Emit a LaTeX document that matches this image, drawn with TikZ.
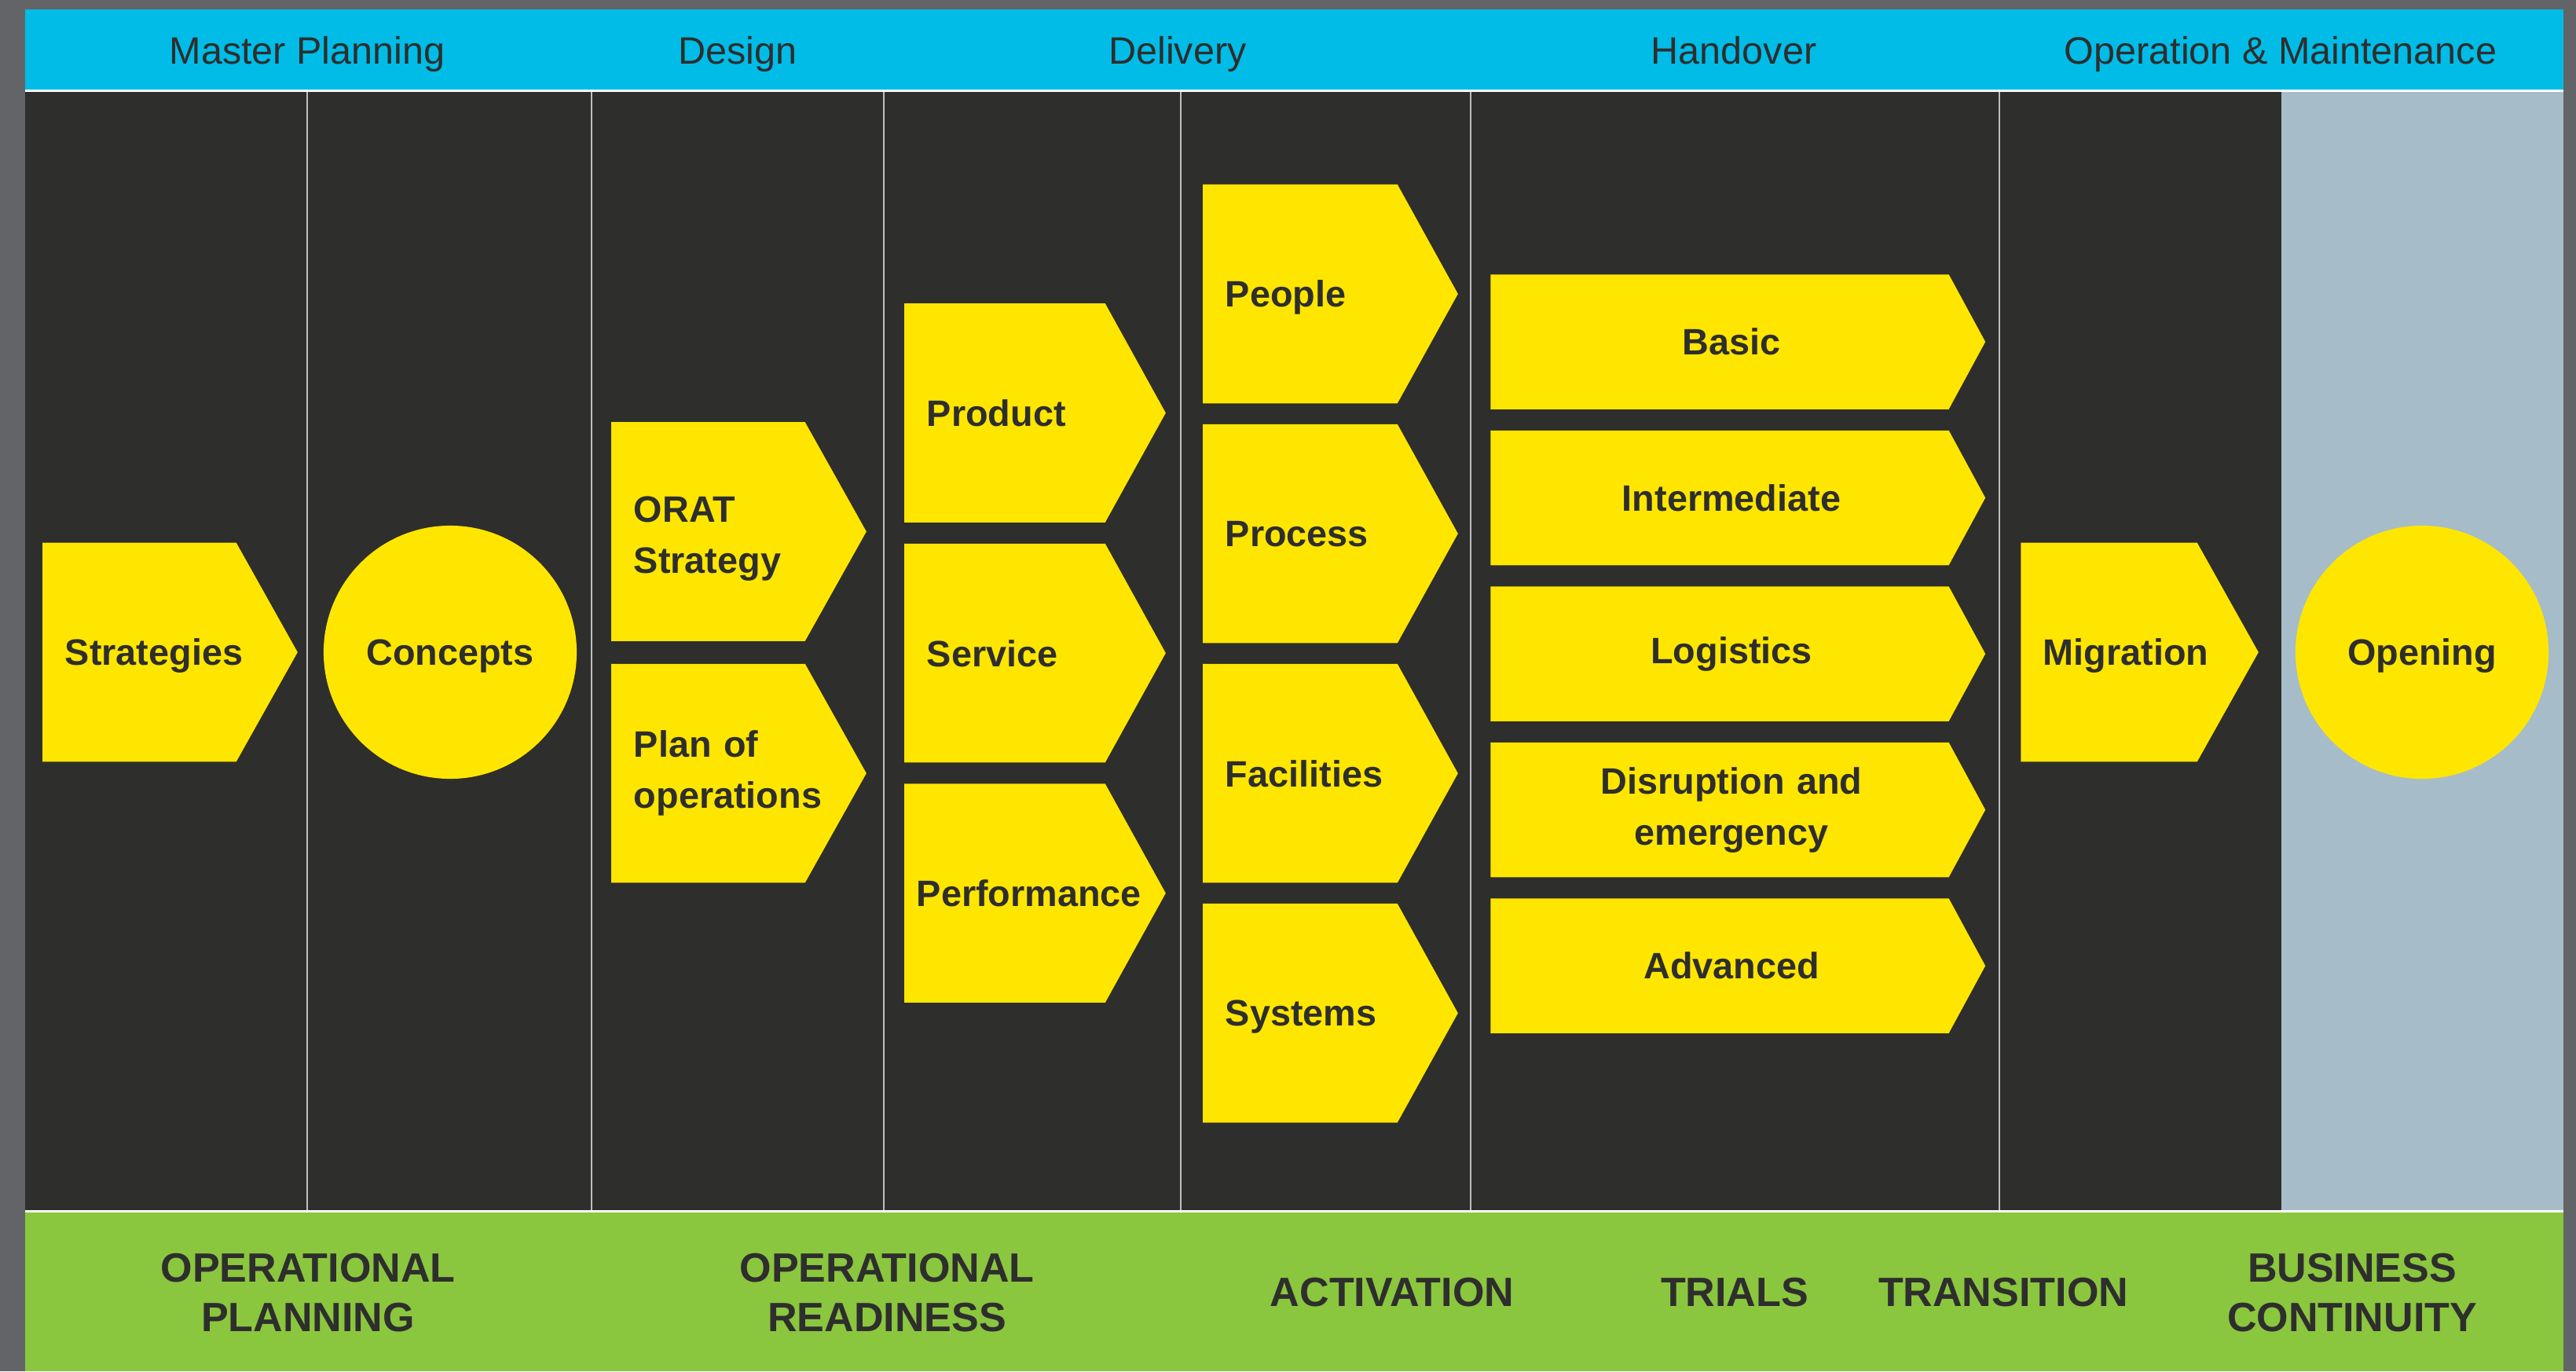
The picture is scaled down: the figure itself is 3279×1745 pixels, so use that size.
\documentclass[tikz,border=0pt]{standalone}
\usepackage{fontspec}
\setmainfont{Liberation Sans}
\usetikzlibrary{positioning,backgrounds}
\definecolor{frame}{HTML}{636467}
\definecolor{sky}{HTML}{00BCE7}
\definecolor{board}{HTML}{2E2E2D}
\definecolor{mist}{HTML}{A7BCC9}
\definecolor{lime}{HTML}{8BC63F}
\definecolor{sun}{HTML}{FFE600}
\definecolor{ink}{HTML}{2E2E2D}
\definecolor{seamgrey}{HTML}{BFBFBF}
\newcommand{\nohyph}{\hyphenpenalty 10000\relax}
\newcommand{\nudge}{\hspace*{0.3cm}}
\newcommand{\pointer}[2]{%
  \fill[sun] (#1.north west) -- (#1.north east) -- ([xshift=#2]#1.east)
    -- (#1.south east) -- (#1.south west) -- cycle;}
\tikzset{
  every node/.style={
    text=ink,
    inner sep=0pt
  },
  phase/.style={anchor=base, font=\fontsize{13.8}{16}\selectfont},
  stage/.style={align=center, font=\bfseries\fontsize{14.8}{18}\selectfont},
  chev/.style={minimum height=2.77cm, inner xsep=0.28cm, text width=#1, align=left,
    text depth=0pt, font=\bfseries\fontsize{13.3}{18.5}\selectfont\nohyph},
  twoline/.style={text depth=#1},
  slab/.style={minimum height=1.70cm, inner xsep=0.28cm, text width=5.255cm, align=center,
    font=\bfseries\fontsize{13.3}{18.5}\selectfont},
  disc/.style={circle, fill=sun, minimum size=3.22cm, text depth=0pt,
    font=\bfseries\fontsize{13.3}{18.5}\selectfont},
  seam/.style={draw=seamgrey, line width=0.5pt}
}

\begin{document}
\begin{tikzpicture}[x=0.01cm, y=-0.01cm]
        \useasboundingbox (0,0) rectangle (3279,1745);
        \begin{scope}[on background layer]
          \fill[frame] (0,0) rectangle (3279,1745);
          \fill[sky] (32,12) rectangle (3263,114);
          \fill[white] (32,114) rectangle (3263,117);
          \fill[board] (32,117) rectangle (2904,1540);
          \fill[mist] (2904,117) rectangle (3263,1540);
          \fill[white] (32,1540) rectangle (3263,1543);
          \fill[lime] (32,1543) rectangle (3263,1745);
          \draw[seam] (391,117) -- (391,1540);
          \draw[seam] (753,117) -- (753,1540);
          \draw[seam] (1125,117) -- (1125,1540);
          \draw[seam] (1503,117) -- (1503,1540);
          \draw[seam] (1872,117) -- (1872,1540);
          \draw[seam] (2545,117) -- (2545,1540);
        \end{scope}

        % phases along the top
        \node[phase] (master) at (391,81) {Master Planning};
        \node[phase] (design) at (939,81) {Design};
        \node[phase] (delivery) at (1499,81) {Delivery};
        \node[phase] (handover) at (2207,81) {Handover};
        \node[phase] (operation) at (2903,81) {Operation \& Maintenance};

        % planning
        \node[chev=1.89cm] (strat) at (177.5,830) {Strategies};
        \node[disc] (concepts) at (573,830) {Concepts};

        % readiness
        \node[chev=1.89cm, twoline=0.57cm] (orat) at (901.5,676.5) {ORAT\\Strategy};
        \node[chev=1.89cm, twoline=0.76cm, below=0.29cm of orat] (plan) {Plan of\\operations};
        \node[chev=1.98cm] (product) at (1279,525.5) {Product};
        \node[chev=1.98cm, below=0.27cm of product] (service) {Service};
        \node[chev=1.98cm, below=0.27cm of service] (performance) {\hspace*{-0.13cm}Performance};

        % activation
        \node[chev=1.90cm] (people) at (1655,374) {People};
        \node[chev=1.90cm, below=0.265cm of people] (process) {Process};
        \node[chev=1.90cm, below=0.265cm of process] (facilities) {Facilities};
        \node[chev=1.90cm, below=0.265cm of facilities] (systems) {Systems};

        % trials
        \node[slab] (basic) at (2189,435) {\nudge Basic};
        \node[slab, below=0.27cm of basic] (intermediate) {\nudge Intermediate};
        \node[slab, below=0.27cm of intermediate] (logistics) {\nudge Logistics};
        \node[slab, below=0.27cm of logistics] (disruption) {\nudge Disruption and\\\nudge emergency};
        \node[slab, below=0.27cm of disruption] (advanced) {\nudge Advanced};

        % transition and continuity
        \node[chev=1.67cm] (migration) at (2684.5,830) {Migration};
        \node[disc] (opening) at (3083,830) {Opening};

        % yellow pointers sit under the labels
        \begin{scope}[on background layer]
          \pointer{strat}{0.78cm}
          \pointer{orat}{0.78cm}
          \pointer{plan}{0.78cm}
          \pointer{product}{0.77cm}
          \pointer{service}{0.77cm}
          \pointer{performance}{0.77cm}
          \pointer{people}{0.77cm}
          \pointer{process}{0.77cm}
          \pointer{facilities}{0.77cm}
          \pointer{systems}{0.77cm}
          \pointer{basic}{0.465cm}
          \pointer{intermediate}{0.465cm}
          \pointer{logistics}{0.465cm}
          \pointer{disruption}{0.465cm}
          \pointer{advanced}{0.465cm}
          \pointer{migration}{0.78cm}
        \end{scope}

        % stages along the bottom
        \node[stage] (planning) at (392,1645) {OPERATIONAL\\PLANNING};
        \node[stage] (readiness) at (1129,1645) {OPERATIONAL\\READINESS};
        \node[stage] (activation) at (1772,1645) {ACTIVATION};
        \node[stage] (trials) at (2208,1645) {TRIALS};
        \node[stage] (transition) at (2550,1645) {TRANSITION};
        \node[stage] (continuity) at (2994,1645) {BUSINESS\\CONTINUITY};
      \end{tikzpicture}
\end{document}
